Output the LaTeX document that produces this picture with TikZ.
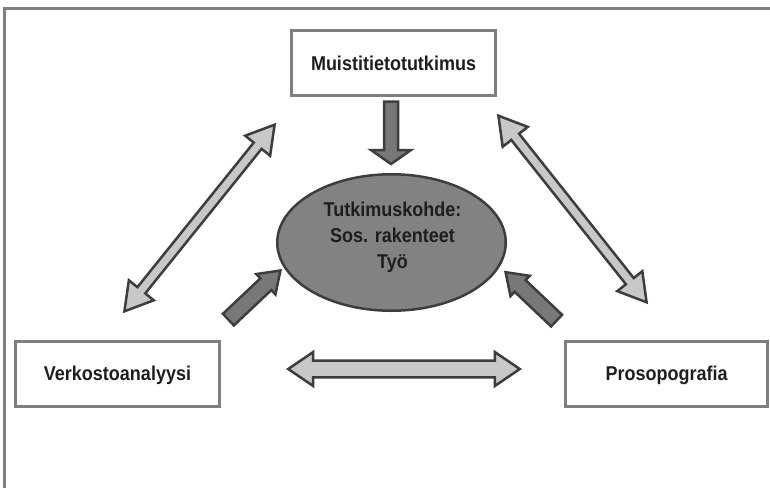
\documentclass[tikz,border=0pt]{standalone}
\usepackage{fontspec}
\setmainfont{Liberation Sans}[FakeStretch=0.9]
\usetikzlibrary{calc,shapes.geometric}
\definecolor{framegray}{HTML}{7F7F7F}
\definecolor{edgedark}{HTML}{3D3D3D}
\definecolor{lightfill}{HTML}{C8C8C8}
\definecolor{darkfill}{HTML}{787878}
\definecolor{ellfill}{HTML}{828282}
\definecolor{textdark}{HTML}{1E1E1E}
% single block arrow: [style]{tail}{tip}{shaft half}{head half}{head length}
\newcommand\blkone[6][]{%
  \coordinate (b1n) at ($(#3)!#6!(#2)$);
  \draw[#1] ($(#2)!#4!90:(#3)$) -- ($(b1n)!#4!90:(#3)$) -- ($(b1n)!#5!90:(#3)$) -- (#3)
    -- ($(b1n)!#5!-90:(#3)$) -- ($(b1n)!#4!-90:(#3)$) -- ($(#2)!#4!-90:(#3)$) -- cycle;}
% double block arrow: [style]{end a}{end b}{shaft half}{head half}{head length}
\newcommand\blktwo[6][]{%
  \coordinate (b2a) at ($(#2)!#6!(#3)$);
  \coordinate (b2b) at ($(#3)!#6!(#2)$);
  \draw[#1] (#2) -- ($(b2a)!#5!90:(#3)$) -- ($(b2a)!#4!90:(#3)$) -- ($(b2b)!#4!90:(#3)$)
    -- ($(b2b)!#5!90:(#3)$) -- (#3) -- ($(b2b)!#5!-90:(#3)$) -- ($(b2b)!#4!-90:(#3)$)
    -- ($(b2a)!#4!-90:(#3)$) -- ($(b2a)!#5!-90:(#3)$) -- cycle;}
\begin{document}
\begin{tikzpicture}[x=1pt,y=-1pt,
  lbl/.style={font=\bfseries\fontsize{20}{26}\selectfont, text=textdark},
  topicbox/.style={rectangle, draw=framegray, line width=3pt, fill=white,
    minimum height=65pt, inner sep=0pt, text height=14.3pt, text depth=0pt, lbl},
  lightarrow/.style={draw=edgedark, fill=lightfill, line width=2.5pt, line join=miter},
  darkarrow/.style={draw=edgedark, fill=darkfill, line width=2.5pt, line join=miter},
  ]
\useasboundingbox (0,0) rectangle (770,488);
% frame
\coordinate (fr-bl) at (4.5,488);
\coordinate (fr-tl) at (4.5,8.5);
\coordinate (fr-tr) at (770,8.5);
\draw[framegray, line width=3pt] (fr-bl) -- (fr-tl) -- (fr-tr);
% boxes
\node[topicbox, minimum width=204pt] (muisti) at (393.5,63) {Muistitietotutkimus};
\node[topicbox, minimum width=204pt] (verkosto) at (117.5,373.5) {Verkostoanalyysi};
\node[topicbox, minimum width=202pt] (proso) at (666.5,373.5) {Prosopografia};
% centre ellipse
\node[ellipse, draw=edgedark, fill=ellfill, line width=2.5pt, minimum width=228.5pt,
  minimum height=136.5pt, inner sep=0pt] (kohde) at (391.5,242.5) {};
\node[lbl, align=center, inner sep=0pt] (kohdeteksti) at (392.5,237.3)
  {Tutkimuskohde:\\Sos. rakenteet\\Työ};
% arrow end points
\coordinate (dn-tail) at (391,101.5);
\coordinate (dn-tip) at (391,164);
\coordinate (dl-a) at (124.4,311.3);
\coordinate (dl-b) at (274.6,124.7);
\coordinate (dr-a) at (498.4,115.7);
\coordinate (dr-b) at (646.6,302.3);
\coordinate (hz-a) at (288.2,369);
\coordinate (hz-b) at (519.8,369);
\coordinate (ll-tail) at (228.4,319.6);
\coordinate (ll-tip) at (280.4,270.5);
\coordinate (lr-tail) at (556.6,320.6);
\coordinate (lr-tip) at (505.6,272.2);
% arrows
\blkone[darkarrow]{dn-tail}{dn-tip}{7pt}{20pt}{14pt}
\blktwo[lightarrow]{dl-a}{dl-b}{5pt}{16pt}{27pt}
\blktwo[lightarrow]{dr-a}{dr-b}{5pt}{16pt}{27pt}
\blktwo[lightarrow]{hz-a}{hz-b}{8.4pt}{17pt}{25pt}
\blkone[darkarrow]{ll-tail}{ll-tip}{8pt}{14pt}{20pt}
\blkone[darkarrow]{lr-tail}{lr-tip}{8pt}{14pt}{20pt}
\end{tikzpicture}
\end{document}
